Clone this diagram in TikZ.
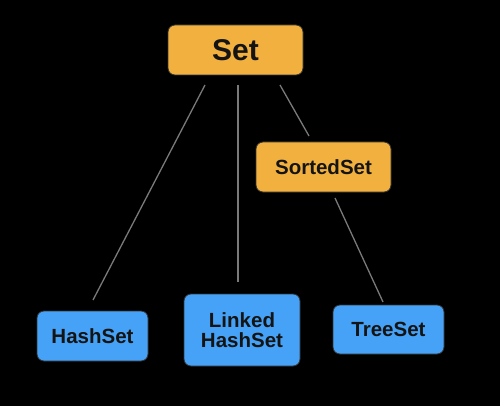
\documentclass[tikz,border=0pt]{standalone}
\usepackage{fontspec}
\setmainfont{Liberation Sans}
\definecolor{orangebox}{HTML}{F2B13F}
\definecolor{bluebox}{HTML}{46A2F6}
\definecolor{edgegray}{HTML}{7A7A7A}
\begin{document}
\begin{tikzpicture}[x=1pt,y=-1pt,
  box/.style={draw=black!80, line width=0.8pt, rounded corners=7pt, inner sep=0pt, align=center, font=\bfseries\fontsize{20.5}{21}\selectfont, text=black!92},
  orangenode/.style={box, fill=orangebox},
  bluenode/.style={box, fill=bluebox},
  link/.style={draw=edgegray, line width=1.3pt}]
\fill[black] (0,0) rectangle (500,406);
\useasboundingbox (0,0) rectangle (500,406);
\node[orangenode, minimum width=135pt, minimum height=50pt, font=\bfseries\fontsize{30}{30}\selectfont] (set) at (235.5,50) {Set};
\node[orangenode, minimum width=135pt, minimum height=50pt] (sorted) at (323.5,167) {SortedSet};
\node[bluenode, minimum width=111pt, minimum height=50pt] (hash) at (92.5,336) {HashSet};
\node[bluenode, minimum width=116pt, minimum height=72pt] (linked) at (242,330) {Linked\\[-1pt]HashSet};
\node[bluenode, minimum width=111pt, minimum height=49pt] (tree) at (388.5,329.5) {TreeSet};
\coordinate (s1) at (205,85);
\coordinate (s2) at (238,85);
\coordinate (s3) at (280,85);
\coordinate (h1) at (93,300);
\coordinate (l1) at (238,282);
\coordinate (o1) at (309,136);
\coordinate (o2) at (335,198);
\coordinate (t1) at (383,302);
\path[link] (s1) -- (h1);
\path[link] (s2) -- (l1);
\path[link] (s3) -- (o1);
\path[link] (o2) -- (t1);
\end{tikzpicture}
\end{document}
